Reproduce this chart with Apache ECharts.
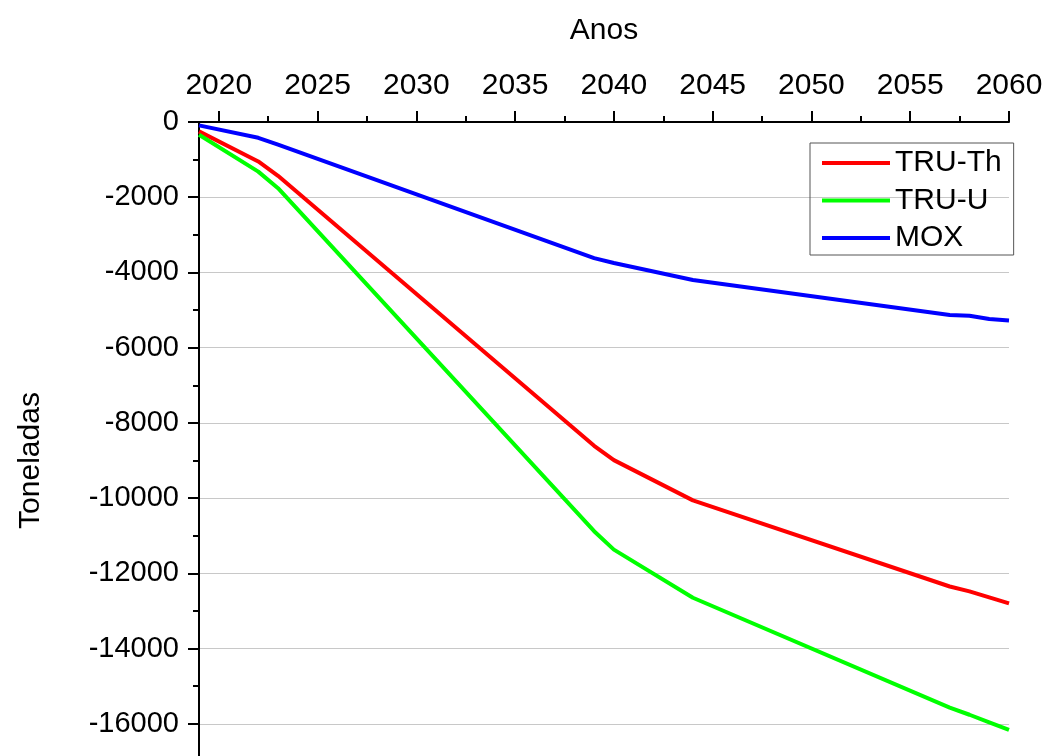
<!DOCTYPE html>
<html>
<head>
<meta charset="utf-8">
<script src="https://cdn.jsdelivr.net/npm/echarts@6/dist/echarts.min.js"></script>
<style>
  html, body { margin: 0; padding: 0; background: #fff; }
  #chart { width: 1046px; height: 756px; }
</style>
</head>
<body>
<div id="chart"></div>
<script>
// Years where the curves change slope
const years = [2019, 2022, 2023, 2039, 2040, 2044, 2057, 2058, 2059, 2060];
// Cumulative quantities (toneladas) per scenario
const truTh = [-250, -1050, -1430, -8610, -8990, -10060, -12350, -12480, -12640, -12800];
const truU  = [-340, -1320, -1760, -10880, -11370, -12650, -15570, -15760, -15960, -16160];
const mox   = [-90, -420, -600, -3620, -3750, -4200, -5130, -5150, -5240, -5280];

// Axis ticks
const yearTicks = [2020, 2025, 2030, 2035, 2040, 2045, 2050, 2055, 2060];
const yearMinorTicks = [2022.5, 2027.5, 2032.5, 2037.5, 2042.5, 2047.5, 2052.5, 2057.5];
const seriesNames = ['TRU-Th', 'TRU-U', 'MOX'];
const seriesColors = ['#ff0000', '#00ff00', '#0000ff'];

const pairs = (vals) => years.map((y, i) => [y, vals[i]]);

const FONT = "'Liberation Sans', Arial, sans-serif";
// The plot area runs past the lower edge of the page
const gridBox = { left: 199, top: 122, width: 810, height: 677, outerBoundsMode: 'none', containLabel: false };

const chart = echarts.init(document.getElementById('chart'), null, { renderer: 'canvas' });

chart.setOption({
  backgroundColor: '#ffffff',
  animation: false,
  textStyle: { fontFamily: FONT },
  grid: [
    Object.assign({}, gridBox),
    Object.assign({}, gridBox)
  ],
  legend: {
    orient: 'vertical',
    left: 810,
    top: 143,
    padding: [5, 12, 2, 12],
    borderColor: '#555',
    borderWidth: 1,
    icon: 'rect',
    itemWidth: 68,
    itemHeight: 4,
    itemGap: 7.5,
    textStyle: { fontSize: 30, color: '#000', fontFamily: FONT },
    data: seriesNames.map((n, i) => ({ name: n, itemStyle: { color: seriesColors[i] } }))
  },
  xAxis: [
    {
      gridIndex: 0,
      type: 'value',
      position: 'top',
      min: 2019,
      max: 2060,
      name: 'Anos',
      nameLocation: 'middle',
      nameGap: 76,
      nameTextStyle: { fontSize: 30, color: '#000', fontFamily: FONT },
      axisLine: { show: true, onZero: false, lineStyle: { color: '#000', width: 2 } },
      axisTick: { show: true, inside: false, length: 11, lineStyle: { color: '#000', width: 2 }, customValues: yearTicks },
      axisLabel: { show: true, fontSize: 30, color: '#000', margin: 21, fontFamily: FONT, customValues: yearTicks, formatter: (v) => String(v) },
      splitLine: { show: false }
    },
    {
      gridIndex: 1,
      type: 'value',
      position: 'top',
      min: 2019,
      max: 2060,
      axisLine: { show: false, onZero: false },
      axisTick: { show: true, inside: false, length: 6, lineStyle: { color: '#000', width: 2 }, customValues: yearMinorTicks },
      axisLabel: { show: false },
      splitLine: { show: false }
    }
  ],
  yAxis: [
    {
      gridIndex: 0,
      type: 'value',
      min: -18000,
      max: 0,
      interval: 2000,
      name: 'Toneladas',
      nameLocation: 'middle',
      nameGap: 153,
      nameRotate: 90,
      nameTextStyle: { fontSize: 30, color: '#000', fontFamily: FONT },
      axisLine: { show: true, onZero: false, lineStyle: { color: '#000', width: 2 } },
      axisTick: { show: true, inside: false, length: 11, lineStyle: { color: '#000', width: 2 } },
      minorTick: { show: true, splitNumber: 2, length: 6, lineStyle: { color: '#000', width: 2 } },
      axisLabel: { fontSize: 29, color: '#000', margin: 20, fontFamily: FONT, formatter: (v) => String(v) },
      splitLine: { show: true, lineStyle: { color: '#c8c8c8', width: 1 } }
    },
    {
      gridIndex: 1,
      type: 'value',
      min: -18000,
      max: 0,
      show: false
    }
  ],
  series: [truTh, truU, mox].map((vals, i) => ({
    name: seriesNames[i],
    type: 'line',
    xAxisIndex: 0,
    yAxisIndex: 0,
    data: pairs(vals),
    symbol: 'none',
    lineStyle: { color: seriesColors[i], width: 4 },
    itemStyle: { color: seriesColors[i] }
  }))
});
</script>
</body>
</html>
